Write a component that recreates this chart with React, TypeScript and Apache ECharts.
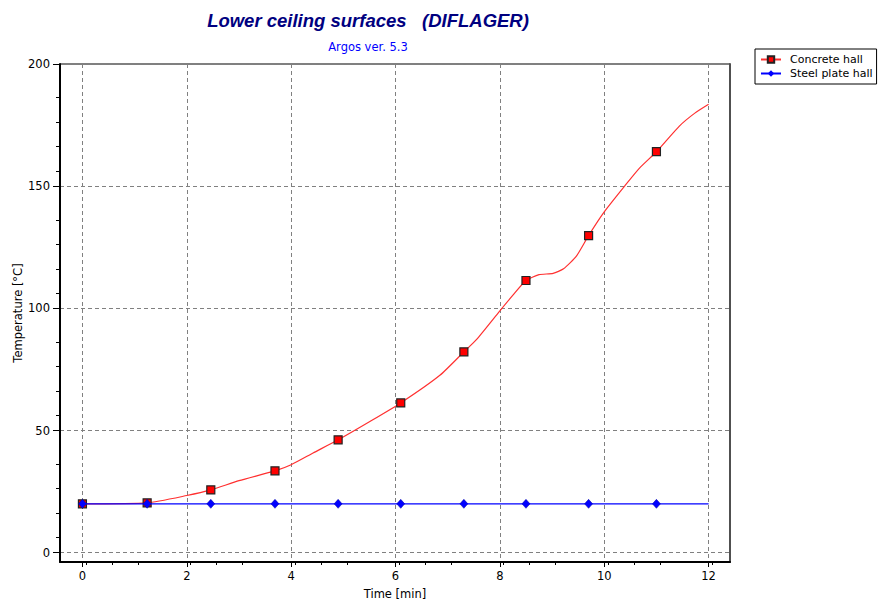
import React, { useEffect, useRef } from "react";
import * as echarts from "echarts";

const xTicks = [0, 2, 4, 6, 8, 10, 12];
const yTicks = [0, 50, 100, 150, 200];

const markerTimes = [0, 1.24, 2.46, 3.69, 4.9, 6.1, 7.31, 8.5, 9.7, 11.0];
const concreteMarkerTemps = [20, 20.4, 25.7, 33.5, 46.2, 61.3, 82.2, 111.4, 129.8, 164.1];
const steelMarkerTemps = [20, 20, 20, 20, 20, 20, 20, 20, 20, 20];

const concreteCurveTimes = [0, 1.24, 2.0, 2.46, 3.0, 3.69, 4.0, 4.42, 4.9, 5.5, 6.1, 6.85, 7.31, 7.55, 8.0, 8.25, 8.5, 8.75, 9.02, 9.22, 9.47, 9.7, 10.0, 10.4, 10.68, 11.0, 11.44, 11.73, 12.0];
const concreteCurveTemps = [20, 20.4, 23.4, 25.7, 29.5, 33.5, 36.0, 40.8, 46.2, 53.6, 61.3, 72.6, 82.2, 87.2, 99.0, 105.4, 111.4, 113.8, 114.3, 116.2, 121.5, 129.8, 139.5, 150.3, 157.5, 164.1, 174.6, 179.8, 183.5];

const steelCurveTimes = [0, 12];
const steelCurveTemps = [20, 20];

const TITLE_FONT = "'Liberation Sans', Arial, sans-serif";
const FONT = "'DejaVu Sans', Verdana, sans-serif";

export default function App() {
  const ref = useRef<HTMLDivElement>(null);
  useEffect(() => {
    if (!ref.current) return;
    const chart = echarts.init(ref.current, undefined, { renderer: "svg" });
    const zip = (xs: number[], ys: number[]) => xs.map((x, i) => [x, ys[i]]);
    chart.setOption({
      animation: false,
      backgroundColor: "#ffffff",
      textStyle: { fontFamily: FONT },
      graphic: [
        {
          type: "text",
          x: 368,
          y: 20,
          style: {
            text: "Lower ceiling surfaces   (DIFLAGER)",
            fill: "#000080",
            font: `italic bold 18.5px ${TITLE_FONT}`,
            textAlign: "center",
            textVerticalAlign: "middle",
          },
        },
        {
          type: "text",
          x: 368,
          y: 47,
          style: {
            text: "Argos ver. 5.3",
            fill: "#0000ff",
            font: `11.5px ${FONT}`,
            textAlign: "center",
            textVerticalAlign: "middle",
          },
        },
      ],
      legend: {
        orient: "vertical",
        left: 755,
        top: 49,
        data: ["Concrete hall", "Steel plate hall"],
        itemWidth: 20,
        itemHeight: 8,
        itemGap: 1,
        padding: [4, 4, 4, 5],
        backgroundColor: "#ffffff",
        borderColor: "#000000",
        borderWidth: 1,
        borderRadius: 0,
        textStyle: { fontSize: 11, lineHeight: 13, color: "#000", fontFamily: FONT, padding: [0, 0, 0, 4] },
      },
      grid: {
        left: 60,
        right: 150,
        top: 64,
        bottom: 46,
        show: true,
        borderColor: "#000000",
        borderWidth: 1,
        backgroundColor: "transparent",
        outerBoundsMode: "none",
        containLabel: false,
      },
      xAxis: {
        type: "value",
        min: -0.43,
        max: 12.41,
        interval: 2,
        name: "Time [min]",
        nameLocation: "middle",
        nameGap: 26,
        nameMoveOverlap: false,
        nameTextStyle: { fontSize: 11.5, color: "#000", fontFamily: FONT },
        axisLine: { show: true, onZero: false, lineStyle: { color: "#000", width: 2 } },
        axisTick: { show: true, customValues: xTicks, length: 5, lineStyle: { color: "#000" } },
        minorTick: { show: true, splitNumber: 4, length: 3, lineStyle: { color: "#000" } },
        axisLabel: { customValues: xTicks, fontSize: 11.5, color: "#000", margin: 8, fontFamily: FONT },
        splitLine: { show: true, lineStyle: { color: "#808080", type: [4, 3], width: 1 } },
      },
      yAxis: [
        {
          type: "value",
          min: -3.8,
          max: 200,
          interval: 50,
          name: "Temperature [°C]",
          nameLocation: "middle",
          nameGap: 36,
          nameMoveOverlap: false,
          nameTextStyle: { fontSize: 11.5, color: "#000", fontFamily: FONT },
          axisLine: { show: true, onZero: false, lineStyle: { color: "#000", width: 2 } },
          axisTick: { show: true, customValues: yTicks, length: 7, lineStyle: { color: "#000" } },
          minorTick: { show: true, splitNumber: 5, length: 4, lineStyle: { color: "#000" } },
          axisLabel: { customValues: yTicks, fontSize: 11.5, color: "#000", margin: 10, fontFamily: FONT },
          splitLine: { show: true, lineStyle: { color: "#808080", type: [4, 3], width: 1 } },
        },
        {
          type: "value",
          min: -3.8,
          max: 200,
          position: "right",
          axisLine: { show: true, onZero: false, lineStyle: { color: "#505050", width: 2 } },
          axisTick: { show: false },
          axisLabel: { show: false },
          splitLine: { show: false },
        },
      ],
      series: [
        {
          name: "Concrete hall",
          type: "line",
          data: zip(concreteCurveTimes, concreteCurveTemps),
          symbol: "rect",
          showSymbol: false,
          smooth: 0.2,
          lineStyle: { color: "#ff3030", width: 1.2 },
          itemStyle: { color: "#ff0000", borderColor: "#222", borderWidth: 1 },
          emphasis: { disabled: true },
          z: 2,
        },
        {
          name: "Concrete hall markers",
          type: "scatter",
          data: zip(markerTimes, concreteMarkerTemps),
          symbol: "rect",
          symbolSize: 8,
          itemStyle: { color: "#ff0000", borderColor: "#222", borderWidth: 1.2, opacity: 1 },
          emphasis: { disabled: true },
          z: 3,
        },
        {
          name: "Steel plate hall",
          type: "line",
          data: zip(steelCurveTimes, steelCurveTemps),
          symbol: "diamond",
          showSymbol: false,
          lineStyle: { color: "#0000ff", width: 1.2 },
          itemStyle: { color: "#0000ff" },
          emphasis: { disabled: true },
          z: 4,
        },
        {
          name: "Steel plate hall markers",
          type: "scatter",
          data: zip(markerTimes, steelMarkerTemps),
          symbol: "diamond",
          symbolSize: [8, 9],
          itemStyle: { color: "#0000ff", borderColor: "#0000a0", borderWidth: 0.5, opacity: 1 },
          emphasis: { disabled: true },
          z: 5,
        },
      ],
    });
    return () => chart.dispose();
  }, []);
  return (
    <div
      ref={ref}
      style={{ position: "fixed", left: 0, top: 0, width: 880, height: 608, background: "#fff" }}
    />
  );
}
